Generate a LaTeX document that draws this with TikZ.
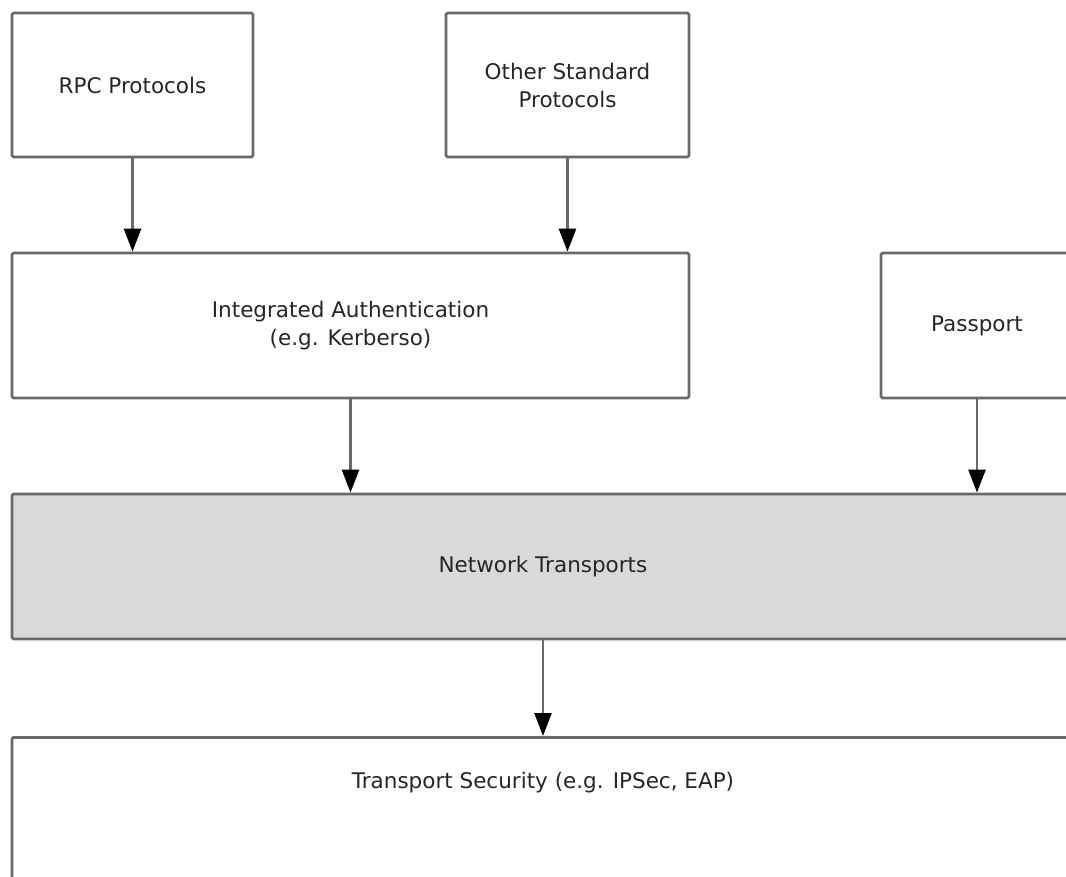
\documentclass[tikz,border=0pt]{standalone}
\usepackage{fontspec}
\setmainfont{DejaVu Sans}
\usetikzlibrary{arrows.meta}
\definecolor{edge}{RGB}{105,105,105}
\definecolor{netfill}{RGB}{217,217,217}
\tikzset{
  box/.style={draw=edge, line width=2.8pt, rounded corners=1.5pt, fill=white, inner sep=0pt, align=center, font=\fontsize{21.5}{28}\selectfont, text=black!85},
  lbl/.style={inner sep=0pt, align=center, font=\fontsize{21.5}{28}\selectfont, text=black!85},
  conn/.style={draw=edge, line width=2.6pt, -{Triangle[length=23pt, width=17pt, fill=black, color=black]}}
}
\begin{document}
\begin{tikzpicture}[x=1pt, y=-1pt]
\useasboundingbox (0,0) rectangle (1066,876);
\clip (0,0) rectangle (1066,876);
\node[box, minimum width=241pt, minimum height=144pt] (rpc) at (132.5,85) {RPC Protocols};
\node[box, minimum width=243pt, minimum height=144pt] (other) at (567.5,85) {Other Standard\\Protocols};
\node[box, minimum width=677pt, minimum height=145pt] (integ) at (350.5,325.5) {Integrated Authentication\\(e.g. Kerberso)};
\node[box, minimum width=192pt, minimum height=145pt] (pass) at (977,325.5) {Passport};
\node[box, fill=netfill, minimum width=1062pt, minimum height=145pt] (net) at (543,566.5) {Network Transports};
\node[box, minimum width=1062pt, minimum height=200pt, anchor=north] (trans) at (543,736) {};
\node[lbl] (translbl) at (543,782.5) {Transport Security (e.g. IPSec, EAP)};
\draw[conn] (rpc.south) -- (rpc.south |- integ.north);
\draw[conn] (other.south) -- (other.south |- integ.north);
\draw[conn] (integ.south) -- (integ.south |- net.north);
\draw[conn] (pass.south) -- (pass.south |- net.north);
\draw[conn] (net.south) -- (trans.north);
\end{tikzpicture}
\end{document}
